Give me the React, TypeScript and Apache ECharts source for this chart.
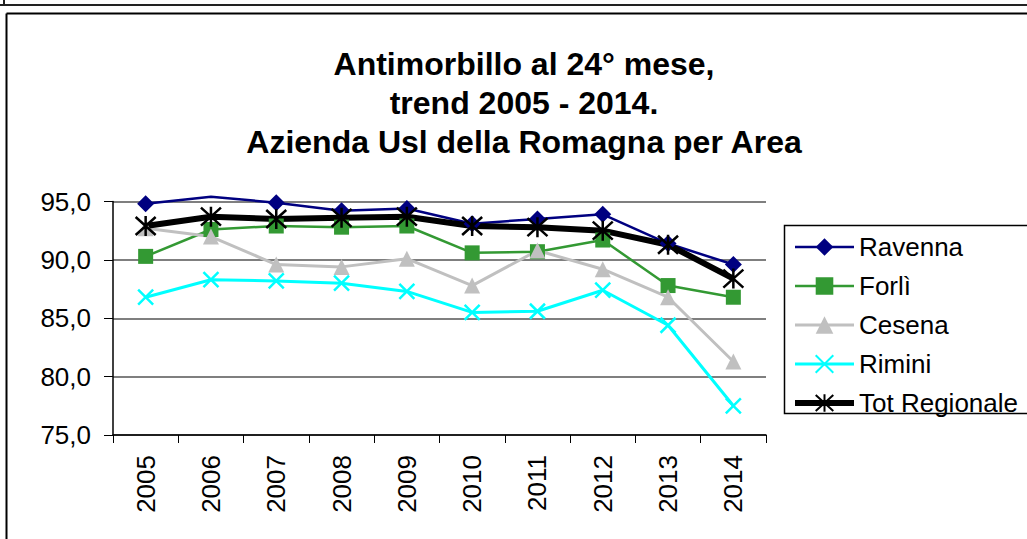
import React, { useEffect, useRef } from "react";
import * as echarts from "echarts";

const years = ["2005", "2006", "2007", "2008", "2009", "2010", "2011", "2012", "2013", "2014"];
const ravenna = [94.8, 95.4, 94.9, 94.2, 94.4, 93.1, 93.5, 93.9, 91.4, 89.6];
const forli = [90.3, 92.6, 92.9, 92.8, 92.9, 90.6, 90.7, 91.7, 87.8, 86.8];
const cesena = [92.7, 92.0, 89.6, 89.4, 90.1, 87.8, 90.8, 89.2, 86.8, 81.3];
const rimini = [86.8, 88.3, 88.2, 88.0, 87.3, 85.5, 85.6, 87.4, 84.4, 77.5];
const totRegionale = [92.9, 93.7, 93.5, 93.6, 93.7, 92.9, 92.8, 92.5, 91.3, 88.4];
const titleLines = ["Antimorbillo al 24° mese,", "trend 2005 - 2014.", "Azienda Usl della Romagna per Area"];

const FONT = "'Liberation Sans', Arial, sans-serif";

export default function App() {
  const ref = useRef<HTMLDivElement>(null);
  useEffect(() => {
    if (!ref.current) return;
    const chart = echarts.init(ref.current, null, { renderer: "svg" });
    const xSym = "path://M0,0L10,10M10,0L0,10";
    const starSym = "path://M5,0L5,10M0.5,0.5L9.5,9.5M9.5,0.5L0.5,9.5";
    chart.setOption({
      animation: false,
      backgroundColor: "#ffffff",
      textStyle: { fontFamily: FONT },
      grid: { left: 113, right: 261, top: 201.5, bottom: 104, containLabel: false },
      xAxis: {
        type: "category",
        data: years,
        boundaryGap: true,
        axisLine: { lineStyle: { color: "#000", width: 1.5 } },
        axisTick: { show: true, length: 8, lineStyle: { color: "#000", width: 1 } },
        axisLabel: { rotate: 90, fontSize: 26, color: "#000", margin: 20, fontFamily: FONT },
        splitLine: { show: false },
      },
      yAxis: {
        type: "value",
        min: 75,
        max: 95,
        interval: 5,
        axisLine: { show: true, lineStyle: { color: "#000", width: 1.5 } },
        axisTick: { show: true, length: 9, lineStyle: { color: "#000", width: 1 } },
        axisLabel: {
          fontSize: 26,
          color: "#000",
          margin: 22,
          fontFamily: FONT,
          formatter: (v: number) => v.toFixed(1).replace(".", ","),
        },
        splitLine: { show: true, lineStyle: { color: "#555", width: 1.5 } },
      },
      legend: {
        orient: "vertical",
        left: 792,
        top: 234,
        itemWidth: 59,
        itemHeight: 22,
        itemGap: 13,
        padding: 0,
        textStyle: { fontSize: 26, color: "#000", fontFamily: FONT, lineHeight: 26 },
        data: [
          { name: "Ravenna", lineStyle: { width: 2.5 } },
          { name: "Forlì", lineStyle: { width: 2.5 } },
          { name: "Cesena", lineStyle: { width: 3 } },
          { name: "Rimini", lineStyle: { width: 3 } },
          { name: "Tot Regionale", lineStyle: { width: 6 } },
        ],
      },
      graphic: [
        { type: "line", shape: { x1: 0, y1: 5, x2: 1027, y2: 5 }, style: { stroke: "#222", lineWidth: 2 } },
        { type: "line", shape: { x1: 4, y1: 0, x2: 4, y2: 5 }, style: { stroke: "#222", lineWidth: 2 } },
        { type: "line", shape: { x1: 6.5, y1: 13.5, x2: 1027, y2: 13.5 }, style: { stroke: "#000", lineWidth: 2 } },
        { type: "line", shape: { x1: 6.5, y1: 13.5, x2: 6.5, y2: 539 }, style: { stroke: "#000", lineWidth: 2 } },
        {
          type: "rect",
          shape: { x: 784.5, y: 225.5, width: 260, height: 188 },
          style: { fill: "none", stroke: "#000", lineWidth: 1.5 },
          z: 0,
        },
        {
          type: "text",
          x: 524,
          y: 44,
          style: {
            text: titleLines.join("\n"),
            font: `bold 32px ${FONT}`,
            fill: "#000",
            textAlign: "center",
            textVerticalAlign: "top",
            lineHeight: 39,
          },
        },
      ],
      series: [
        {
          name: "Ravenna",
          type: "line",
          clip: false,
          data: ravenna.map((v, i) => (i === 1 ? { value: v, symbol: "none" } : v)),
          symbol: "diamond",
          symbolSize: 17,
          lineStyle: { color: "#000080", width: 2.5 },
          itemStyle: { color: "#000080" },
        },
        {
          name: "Forlì",
          type: "line",
          clip: false,
          data: forli,
          symbol: "rect",
          symbolSize: 15,
          lineStyle: { color: "#339933", width: 2.5 },
          itemStyle: { color: "#339933" },
        },
        {
          name: "Cesena",
          type: "line",
          clip: false,
          data: cesena,
          symbol: "triangle",
          symbolSize: 16,
          lineStyle: { color: "#c0c0c0", width: 3 },
          itemStyle: { color: "#c0c0c0" },
        },
        {
          name: "Rimini",
          type: "line",
          clip: false,
          data: rimini,
          symbol: xSym,
          symbolSize: 15,
          lineStyle: { color: "#00ffff", width: 3 },
          itemStyle: { color: "#00ffff", borderColor: "#00ffff", borderWidth: 2.5 },
        },
        {
          name: "Tot Regionale",
          type: "line",
          clip: false,
          data: totRegionale,
          symbol: starSym,
          symbolSize: 20,
          lineStyle: { color: "#000", width: 6 },
          itemStyle: { color: "#000", borderColor: "#000", borderWidth: 2.5 },
        },
      ],
    });
    return () => chart.dispose();
  }, []);
  return (
    <div
      ref={ref}
      style={{ position: "fixed", left: 0, top: 0, width: 1027, height: 539, background: "#fff" }}
    />
  );
}
